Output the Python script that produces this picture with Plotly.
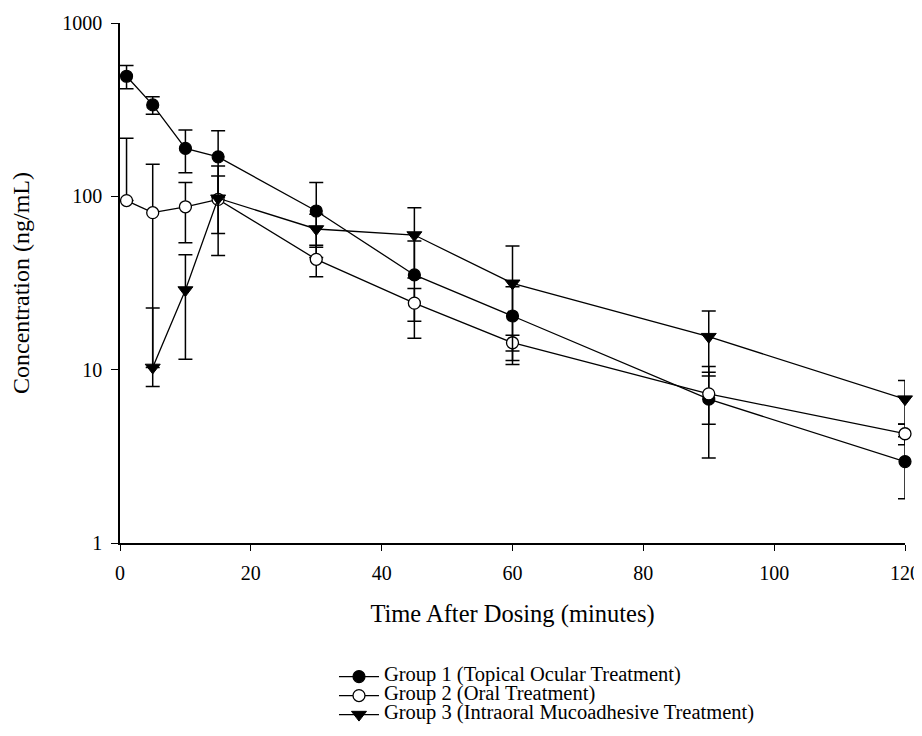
import plotly.graph_objects as go

# Time points (minutes)
time_g1 = [1, 5, 10, 15, 30, 45, 60, 90, 120]
time_g2 = [1, 5, 10, 15, 30, 45, 60, 90, 120]
time_g3 = [5, 10, 15, 30, 45, 60, 90, 120]

# Mean concentrations (ng/mL)
conc_g1 = [493, 337, 189, 169, 82.3, 35.2, 20.4, 6.76, 2.95]
conc_g2 = [94.5, 80.5, 87, 96, 43.3, 24.2, 14.3, 7.25, 4.27]
conc_g3 = [10.3, 28.8, 97.5, 64.8, 59.8, 31.5, 15.5, 6.76]

# Standard deviations (ng/mL)
sd_g1 = [75, 39, 52, 70, 38, 20, 9.7, 3.67, 1.15]
sd_g2 = [122, 72.5, 33, 35, 8.9, 5.2, 1.5, 2.4, 0.58]
sd_g3 = [12.4, 17.3, 52, 14, 26, 20.2, 6.3, 1.9]

names = [
    "Group 1 (Topical Ocular Treatment)",
    "Group 2 (Oral Treatment)",
    "Group 3 (Intraoral Mucoadhesive Treatment)",
]

SERIF = "Liberation Serif, Times New Roman, serif"


def lower(vals, sds):
    # lower bar is not drawn when it would fall below zero on the log axis
    return [s if v - s > 0 else 0 for v, s in zip(vals, sds)]


fig = go.Figure()

series = [
    (time_g1, conc_g1, sd_g1, dict(symbol="circle", size=12, color="black",
                                   line=dict(color="black", width=1.2))),
    (time_g2, conc_g2, sd_g2, dict(symbol="circle", size=12, color="white",
                                   line=dict(color="black", width=1.3))),
    (time_g3, conc_g3, sd_g3, dict(symbol="triangle-down", size=13, color="black",
                                   line=dict(color="black", width=1))),
]

for (t, c, s, mk), nm in zip(series, names):
    fig.add_trace(go.Scatter(
        x=t, y=c, mode="lines+markers",
        name='<span style="font-size:20.5px">' + nm + "</span>",
        line=dict(color="black", width=1.3),
        marker=mk,
        error_y=dict(type="data", symmetric=False, array=s,
                     arrayminus=lower(c, s), color="black",
                     thickness=1.5, width=7),
        cliponaxis=False,
    ))

fig.update_layout(
    width=914, height=728,
    margin=dict(l=112, r=17, t=15, b=193, autoexpand=False),
    paper_bgcolor="white", plot_bgcolor="white",
    font=dict(family=SERIF, color="black", size=20),
    showlegend=True,
    legend=dict(
        x=0.2726, y=-0.229, xanchor="left", yanchor="top",
        font=dict(family=SERIF, size=12, color="black"),
        bgcolor="rgba(0,0,0,0)", itemwidth=40,
        tracegroupgap=0,
    ),
)

fig.update_xaxes(
    range=[0, 120], tickvals=[0, 20, 40, 60, 80, 100, 120],
    ticks="outside", ticklen=6, tickwidth=1.3, tickcolor="black",
    ticklabelstandoff=5,
    showline=True, linewidth=1.5, linecolor="black",
    showgrid=False, zeroline=False,
    tickfont=dict(family=SERIF, size=20, color="black"),
    title=dict(text="Time After Dosing (minutes)",
               font=dict(family=SERIF, size=24.5, color="black"), standoff=22),
)

fig.update_yaxes(
    type="log", range=[0, 3],
    tickvals=[1, 10, 100, 1000], ticktext=["1", "10", "100", "1000"],
    ticks="outside", ticklen=7, tickwidth=1.3, tickcolor="black",
    ticklabelstandoff=5,
    showline=True, linewidth=1.5, linecolor="black",
    showgrid=False, zeroline=False,
    tickfont=dict(family=SERIF, size=20, color="black"),
    title=dict(text="Concentration (ng/mL)",
               font=dict(family=SERIF, size=24, color="black"), standoff=30),
)

fig.write_html("out.html")
